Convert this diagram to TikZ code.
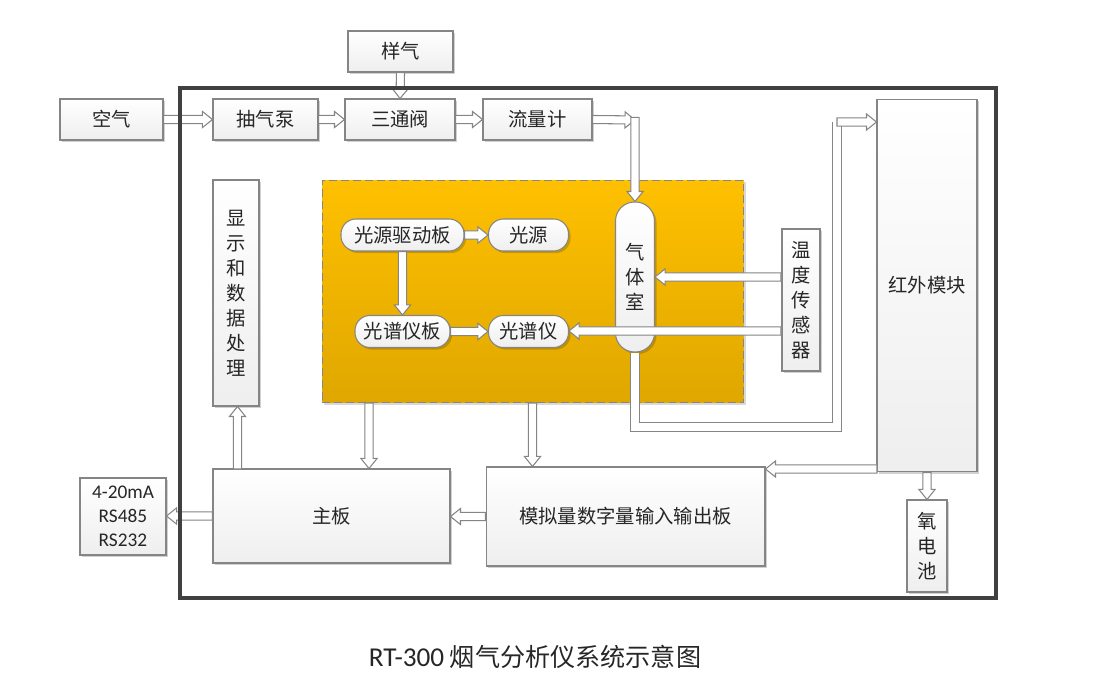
\documentclass[tikz,border=0pt]{standalone}
\usepackage{fontspec}
\setmainfont{Noto Sans CJK SC}
\newfontfamily\latinfont{Carlito}
\usetikzlibrary{calc, shadows}
\definecolor{boxline}{HTML}{858585}
\definecolor{frameline}{HTML}{404040}
\definecolor{ambertop}{HTML}{FFC000}
\definecolor{amberbot}{HTML}{DFA700}
\definecolor{inktext}{HTML}{262626}
\tikzset{
  box/.style={draw=boxline, line width=0.6pt, top color=white, bottom color=gray!13,
    inner sep=0pt, align=center, text=inktext, font=\fontsize{11}{14.2}\selectfont,
    drop shadow={shadow xshift=1.2pt, shadow yshift=-1.2pt, opacity=0.18, fill=black}},
  pill/.style={box, rounded corners=8.5pt},
  zone/.style={draw=boxline, line width=0.6pt, dash pattern=on 4.5pt off 2.3pt,
    top color=ambertop, bottom color=amberbot,
    drop shadow={shadow xshift=1.2pt, shadow yshift=-1.2pt, opacity=0.15, fill=black}},
  flow/.style={draw=boxline, fill=white, line width=0.6pt, line join=miter, to path={
    let \p1=(\tikztostart), \p2=(\tikztotarget),
        \n1={atan2(\y2-\y1,\x2-\x1)}, \n2={veclen(\x2-\x1,\y2-\y1)}, \n3={\n2-5.7} in
    {[shift={(\p1)}, rotate=\n1] (0pt,-2.3pt) -- ({\n3*1pt},-2.3pt) -- ({\n3*1pt},-4.6pt) -- ({\n2*1pt},0pt)
      -- ({\n3*1pt},4.6pt) -- ({\n3*1pt},2.3pt) -- (0pt,2.3pt) -- cycle}}},
  tube/.style={draw=boxline, line width=0.6pt, double=white, double distance=4pt}
}

\begin{document}
\begin{tikzpicture}[x=0.02cm, y=-0.02cm]
  \useasboundingbox (0,0) rectangle (1102,686);
  \node[box, minimum width=2.1cm,  minimum height=0.82cm] (yangqi) at (400.5,51.5) {样气};
  \node[box, minimum width=2.06cm, minimum height=0.82cm] (kongqi) at (111.5,119.5) {空气};
  \node[box, minimum width=2.1cm,  minimum height=0.82cm] (pump)   at (265.5,119.5) {抽气泵};
  \node[box, minimum width=2.2cm,  minimum height=0.82cm] (valve)  at (400,119.5) {三通阀};
  \node[box, minimum width=2.18cm, minimum height=0.82cm] (meter)  at (537.5,119.5) {流量计};
  \node[box, minimum width=0.92cm, minimum height=4.52cm] (display) at (236,293) {显\\示\\和\\数\\据\\处\\理};
  \node[zone, minimum width=8.44cm, minimum height=4.45cm] (optic) at (533,291.5) {};
  \node[pill, minimum width=2.46cm, minimum height=0.64cm] (lsdrv)  at (402.5,235) {光源驱动板};
  \node[pill, minimum width=1.6cm,  minimum height=0.64cm] (lsrc)   at (528.5,235) {光源};
  \node[pill, minimum width=1.9cm,  minimum height=0.64cm] (specbd) at (402.5,331.5) {光谱仪板};
  \node[pill, minimum width=1.6cm,  minimum height=0.64cm] (spec)   at (528.5,331.5) {光谱仪};
  \node[box, rounded corners=10.8pt, minimum width=0.78cm, minimum height=3cm] (cell) at (635,277) {气\\体\\室};
  \node[box, minimum width=0.76cm, minimum height=2.84cm] (temp) at (801,300) {温\\度\\传\\感\\器};
  \node[box, minimum width=2cm,    minimum height=7.46cm] (ir)   at (927,285.5) {红外模块};
  \node[box, minimum width=0.8cm,  minimum height=1.84cm] (o2)   at (927,546) {氧\\电\\池};
  \node[box, minimum width=4.74cm, minimum height=1.88cm] (mainbd) at (331.5,516) {主板};
  \node[box, minimum width=5.58cm, minimum height=1.98cm] (io)     at (625.5,516.5) {模拟量数字量输入输出板};
  \node[box, minimum width=1.72cm, minimum height=1.54cm, font=\latinfont\fontsize{11}{13.7}\selectfont]
    (comm) at (123,516.5) {4-20mA\\RS485\\RS232};
  \coordinate (cellin) at (635,120);
  \coordinate (tc) at (781,277);
  \coordinate (ts) at (781,331);
  \coordinate (oa) at (369,403);
  \coordinate (ob) at (532.5,403);
  \coordinate (md) at (237.5,469);
  \coordinate (irin) at (837,122);
  \coordinate (loop) at (837,427);
  \coordinate (irout) at (877,469);
  \draw[tube] (cell.south) |- (loop) -- (irin);
  \draw[flow] (kongqi.east) to (pump.west);
  \draw[flow] (pump.east) to (valve.west);
  \draw[flow] (valve.east) to (meter.west);
  \draw[flow] (yangqi.south) to (valve.north);
  \draw[flow] (meter.east) to (cellin);
  \draw[flow] ([yshift=1.5pt]cellin) to (cell.north);
  \draw[flow] (lsdrv.east) to (lsrc.west);
  \draw[flow] (lsdrv.south) to (specbd.north);
  \draw[flow] (specbd.east) to (spec.west);
  \draw[flow] (tc) to (tc -| cell.east);
  \draw[flow] (ts) to (ts -| spec.east);
  \draw[flow] (irin) to (irin -| ir.west);
  \draw[flow] (oa) to (oa |- mainbd.north);
  \draw[flow] (ob) to (ob |- io.north);
  \draw[flow] (irout) to (irout -| io.east);
  \draw[flow] (ir.south) to (o2.north);
  \draw[flow] (io.west) to (io.west -| mainbd.east);
  \draw[flow] (mainbd.west) to (mainbd.west -| comm.east);
  \draw[flow] (md) to (md |- display.south);
  \draw[frameline, line width=1.8pt] (180,88) rectangle (996,598);
  \node[text=inktext, font=\fontsize{14.3}{16}\selectfont] (title) at (535,657) {{\latinfont\fontsize{15.5}{16}\selectfont RT-300} 烟气分析仪系统示意图};
\end{tikzpicture}
\end{document}
